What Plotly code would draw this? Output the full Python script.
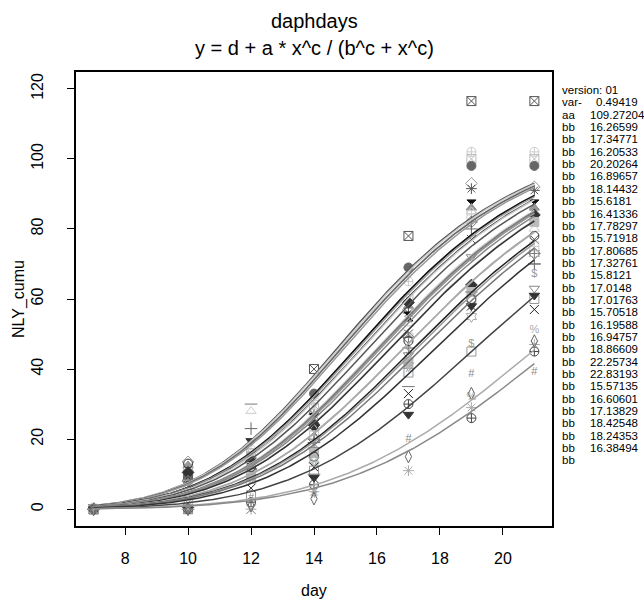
import numpy as np
import plotly.graph_objects as go

# ---- data ----
days = [7, 10, 12, 14, 17, 19, 21]

aa = 109.27204
cc = 5.83          # shape exponent (estimated from the drawn curves)
dd = 0.0

bb_values = [15.57135, 15.6181, 15.70518, 15.71918, 15.8121, 16.19588, 16.20533,
             16.26599, 16.38494, 16.41336, 16.60601, 16.89657, 16.94757, 17.0148,
             17.01763, 17.13829, 17.32761, 17.34771, 17.78297, 17.80685, 18.14432,
             18.24353, 18.42548, 18.86609, 20.20264, 22.25734, 22.83193, None]

obs = [
    [0, 10, 15, 40, 78, 116.5, 116.5],
    [0.5, 12, 17, 31, 65, 102, 102],
    [0, 11, 16, 29, 60, 100, 100],
    [0, 9.5, 14, 33, 69, 98, 98],
    [0, 13.5, 14.5, 28, 57, 93, 92],
    [0, 8.5, 13, 27, 56, 91.5, 91],
    [0, 9, 12.5, 26, 55, 87, 87],
    [0, 12.5, 14, 25, 58, 86, 86],
    [0, 10.5, 13.5, 24, 59, 64, 84],
    [0, 7.5, 28, 23, 53, 85, 80],
    [0, 0, 0, 22, 50, 77, 77],
    [0, 7, 12, 21, 49, 84, 75],
    [0, 8, 11.5, 20, 49, 82, 73],
    [0, 0, 23, 19, 46, 80, 70],
    [0, 6.5, 11, 18, 45, 47, 67],
    [0, 3, 10.5, 17, 44, 72, 63],
    [0, 0, 10, 16, 42, 62, 82],
    [0, 13, 12, 15, 48, 60, 78],
    [0, 2, 9, 14, 41, 55, 73],
    [0, 1, 8, 13, 40, 32, 51],
    [0, 0, 6, 12, 33, 58, 57],
    [0, 0, 4, 11, 39, 45, 60],
    [0, 0.5, 30, 10, 35, 62, 70],
    [0, 0, 19.5, 9, 27, 58, 61],
    [0, 0, 2, 7, 30, 26, 45],
    [0, 0, 0, 5, 11, 29, 47],
    [0, 0, 3, 4, 20, 38.5, 39],
    [0, 0, 1, 3, 15, 33, 48],
]

symbols = ["square-x-open", "circle-cross-open", "square-x-open", "circle",
           "diamond-open", "asterisk-open", "hourglass", "triangle-up",
           "diamond", "triangle-up-open", "x-thin-open", "square-cross-open",
           "diamond-cross-open", "cross-thin-open", "$", "triangle-down-open",
           "square", "circle-open", "hexagram-open", "%", "x-thin-open",
           "square-open", "line-ew-open", "triangle-down", "circle-cross-open",
           "asterisk-open", "#", "diamond-tall-open"]

colors = ["#555555", "#cccccc", "#bbbbbb", "#666666", "#999999", "#555555",
          "#111111", "#999999", "#333333", "#cccccc", "#555555", "#cccccc",
          "#777777", "#666666", "#999999", "#888888", "#bbbbbb", "#333333",
          "#aaaaaa", "#aaaaaa", "#222222", "#999999", "#777777", "#333333",
          "#444444", "#aaaaaa", "#888888", "#666666"]

legend_lines = ["version: 01"]
legend_labels = ["var-", "aa"] + ["bb"] * 28
legend_vals = ["0.49419", "109.27204", "16.26599", "17.34771", "16.20533", "20.20264",
               "16.89657", "18.14432", "15.6181", "16.41336", "17.78297", "15.71918",
               "17.80685", "17.32761", "15.8121", "17.0148", "17.01763", "15.70518",
               "16.19588", "16.94757", "18.86609", "22.25734", "22.83193", "15.57135",
               "16.60601", "17.13829", "18.42548", "18.24353", "16.38494", ""]

FONT = "Liberation Sans, Arial, sans-serif"

fig = go.Figure()

# observed points
for i, ys in enumerate(obs):
    sym = symbols[i]
    col = colors[i]
    if sym in ("$", "%", "#"):
        # character symbols: the near-zero early points sit inside the day-7/10 blob,
        # draw those as small dots, the rest as the character itself
        early = [k for k, v in enumerate(ys) if days[k] < 12]
        late = [k for k, v in enumerate(ys) if days[k] >= 12]
        fig.add_trace(go.Scatter(x=[days[k] for k in early], y=[ys[k] for k in early],
                                 mode="markers",
                                 marker=dict(symbol="circle-open", size=6, color=col),
                                 showlegend=False, hoverinfo="skip"))
        fig.add_trace(go.Scatter(x=[days[k] for k in late], y=[ys[k] for k in late],
                                 mode="text", text=[sym] * len(late),
                                 textfont=dict(family=FONT, size=11, color=col),
                                 showlegend=False, hoverinfo="skip"))
    else:
        fig.add_trace(go.Scatter(x=days, y=ys, mode="markers",
                                 marker=dict(symbol=sym, size=9, color=col,
                                             line=dict(color=col, width=1)),
                                 showlegend=False, hoverinfo="skip"))

# fitted curves y = d + a * x^c / (b^c + x^c)
xs = np.linspace(7, 21, 200)
for i, b in enumerate(bb_values):
    if b is None:
        continue
    ys = dd + aa * xs ** cc / (b ** cc + xs ** cc)
    fig.add_trace(go.Scatter(x=xs, y=ys, mode="lines",
                             line=dict(color=colors[i], width=1.5),
                             showlegend=False, hoverinfo="skip"))

L, R, T, B = 76, 92, 72, 74
W, H = 644, 600
pw, ph = W - L - R, H - T - B


def px(xp):
    return (xp - L) / pw


def py(yp):
    return (H - B - yp) / ph


ann = []
ann.append(dict(text="daphdays", x=0.5, y=py(21), xref="paper", yref="paper",
                xanchor="center", yanchor="middle", showarrow=False,
                font=dict(family=FONT, size=20, color="black")))
ann.append(dict(text="y = d + a * x^c / (b^c + x^c)", x=0.5, y=py(48), xref="paper",
                yref="paper", xanchor="center", yanchor="middle", showarrow=False,
                font=dict(family=FONT, size=20, color="black")))
ann.append(dict(text="day", x=0.5, y=py(590), xref="paper", yref="paper",
                xanchor="center", yanchor="middle", showarrow=False,
                font=dict(family=FONT, size=16, color="black")))
ann.append(dict(text="NLY_cumu", x=px(19), y=0.5, xref="paper", yref="paper",
                xanchor="center", yanchor="middle", showarrow=False, textangle=-90,
                font=dict(family=FONT, size=16, color="black")))

y0, dy = 90, 12.35
LEG_FS = 11.5
ann.append(dict(text=legend_lines[0], x=px(560), y=py(y0), xref="paper", yref="paper",
                xanchor="left", yanchor="middle", showarrow=False,
                font=dict(family=FONT, size=LEG_FS, color="black")))
for k, (lab, val) in enumerate(zip(legend_labels, legend_vals)):
    yy = py(y0 + (k + 1) * dy)
    ann.append(dict(text=lab, x=px(560), y=yy, xref="paper", yref="paper",
                    xanchor="left", yanchor="middle", showarrow=False,
                    font=dict(family=FONT, size=LEG_FS, color="black")))
    if val:
        xv = 594 if lab == "var-" else 588
        ann.append(dict(text=val, x=px(xv), y=yy, xref="paper", yref="paper",
                        xanchor="left", yanchor="middle", showarrow=False,
                        font=dict(family=FONT, size=LEG_FS, color="black")))

fig.update_layout(
    width=W, height=H,
    margin=dict(l=L, r=R, t=T, b=B),
    paper_bgcolor="white", plot_bgcolor="white",
    annotations=ann,
    showlegend=False,
    font=dict(family=FONT, size=16, color="black"),
)
fig.update_xaxes(range=[6.44, 21.56], tickvals=[8, 10, 12, 14, 16, 18, 20],
                 showgrid=False, zeroline=False, showline=True, mirror=True,
                 linecolor="black", linewidth=2, ticks="outside", ticklen=7,
                 tickcolor="black", tickwidth=1, ticklabelstandoff=10,
                 tickfont=dict(family=FONT, size=16))
fig.update_yaxes(range=[-4.8, 124.8], tickvals=[0, 20, 40, 60, 80, 100, 120],
                 ticktext=["0", "20", "40", "60", "80", "100", "120"],
                 showgrid=False, zeroline=False, showline=True, mirror=True,
                 linecolor="black", linewidth=2, ticks="outside", ticklen=7,
                 tickcolor="black", tickwidth=1, tickangle=-90, ticklabelstandoff=18,
                 tickfont=dict(family=FONT, size=16))

fig.write_html("out.html")
